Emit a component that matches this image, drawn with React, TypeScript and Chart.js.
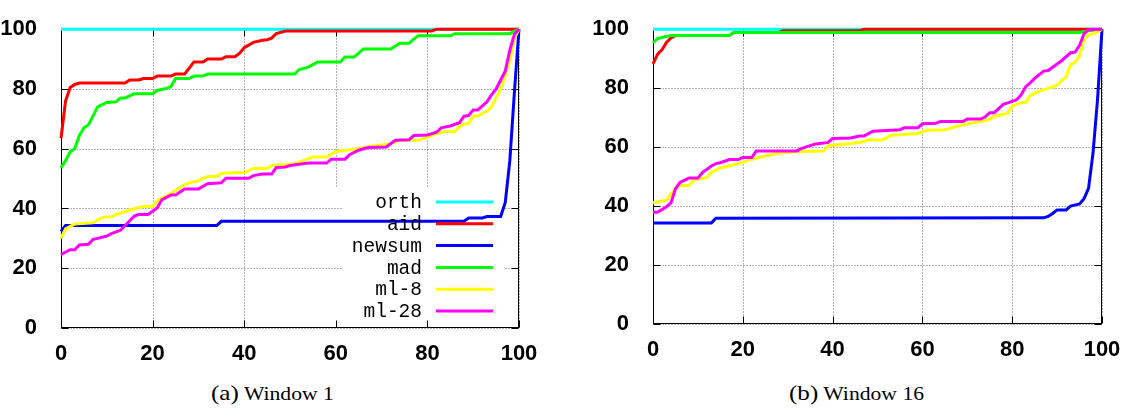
import React, { useEffect, useRef } from "react";
import { Chart, registerables } from "chart.js";
Chart.register(...registerables);

type Pt = [number, number];

const SERIES_LABELS = ["orth", "aid", "newsum", "mad", "ml-8", "ml-28"];
const SERIES_COLORS = ["#00ffff", "#ff0000", "#0000ff", "#00ff00", "#ffff00", "#ff00ff"];
const X_TICKS = [0, 20, 40, 60, 80, 100];
const Y_TICKS = [0, 20, 40, 60, 80, 100];
const CAPTIONS = [
  ["(a)", "Window 1"],
  ["(b)", "Window 16"],
];

// Window 1
const W1_ORTH: Pt[] = [[0, 100], [100, 100]];
const W1_AID: Pt[] = [[0, 63.5], [1, 76], [2, 80.5], [3, 81.5], [4, 82], [14, 82], [15, 83], [17, 83], [18, 83.5], [20, 83.5], [21, 84.3], [24, 84.3], [25, 85], [27, 85], [28, 87], [29, 89], [31, 89], [32, 90], [35, 90], [36, 90.8], [38, 90.8], [39, 92], [40, 93.8], [42, 95.6], [44, 96.3], [45, 96.5], [46, 97], [47, 98.5], [49, 99.4], [81, 99.4], [82, 100], [100, 100]];
const W1_NEWSUM: Pt[] = [[0, 32.3], [1, 34.3], [34, 34.3], [35, 35.7], [88, 35.7], [89, 36.8], [92, 36.8], [93, 37.3], [96, 37.3], [97, 42], [98, 56], [99, 79], [100, 100]];
const W1_MAD: Pt[] = [[0, 53.6], [1, 56], [2, 59], [3, 60], [4, 64.4], [5, 67], [6, 68], [8, 74], [10, 75.5], [12, 75.7], [13, 77], [14, 77], [16, 78.4], [20, 78.4], [21, 79.5], [23, 80.2], [24, 80.8], [25, 83.5], [28, 83.5], [29, 84.3], [31, 84.3], [32, 85], [51, 85], [52, 86.5], [54, 87.3], [56, 89], [61, 89], [62, 90.7], [64, 90.7], [65, 92], [66, 93.4], [72, 93.4], [74, 95.3], [76, 95.3], [77, 96.7], [78, 97.8], [85, 97.8], [86, 98.5], [98, 98.5], [100, 100]];
const W1_ML8: Pt[] = [[0, 30], [1, 33.2], [3, 34.8], [7, 35.2], [9, 37], [11, 37.2], [12, 38], [14, 38.9], [16, 39.9], [18, 40.7], [20, 40.7], [21, 42.5], [22, 43.5], [24, 45], [25, 46], [27, 48], [28, 48.6], [30, 49.3], [32, 50.7], [34, 50.7], [35, 51.8], [40, 52], [42, 53.4], [45, 53.4], [46, 54.4], [49, 54.7], [51, 55], [53, 56.1], [55, 57.2], [58, 57.2], [59, 58.2], [60, 59], [62, 59.5], [65, 60.1], [68, 60.9], [72, 61.7], [74, 62.8], [78, 62.8], [80, 63.9], [82, 65], [84, 65.8], [86, 65.8], [87, 67.5], [88, 68.2], [89, 68.5], [90, 70.9], [91, 71], [93, 72.5], [94, 74], [95, 77], [96, 80], [97, 84.5], [98, 89.7], [99, 97], [100, 100]];
const W1_ML28: Pt[] = [[0, 24.6], [2, 26.2], [3, 26.2], [4, 27.8], [6, 28], [7, 29.7], [8, 30], [10, 30.8], [11, 31.6], [13, 32.7], [15, 35.9], [16, 37.5], [17, 38], [19, 38], [21, 40.2], [22, 42.9], [24, 44.5], [25, 44.5], [27, 46.5], [30, 46.5], [32, 48.3], [35, 48.6], [36, 50.1], [41, 50.1], [42, 51], [44, 51.5], [46, 51.5], [47, 53.7], [49, 53.9], [50, 54.4], [54, 55.2], [58, 55.2], [59, 56.5], [62, 56.5], [63, 58], [65, 59.5], [67, 60.4], [71, 60.6], [73, 62.8], [76, 63], [77, 64.4], [80, 64.6], [82, 65.5], [83, 67], [85, 67.6], [87, 68.7], [88, 70.9], [89, 71.1], [90, 73], [91, 73], [93, 75.7], [94, 78], [95, 80], [96, 83], [97, 86], [98, 93], [99, 98.3], [100, 100]];

// Window 16
const W16_ORTH: Pt[] = [[0, 100], [100, 100]];
const W16_AID: Pt[] = [[0, 88.2], [1, 91.5], [2, 93], [3, 95.5], [4, 97], [5, 97.9], [17, 97.9], [18, 98.9], [28, 98.9], [29, 99.5], [46, 99.5], [47, 100], [100, 100]];
const W16_NEWSUM: Pt[] = [[0, 34.3], [13, 34.3], [14, 35.9], [87, 36], [88, 36.5], [89, 37.5], [90, 38.7], [92, 38.7], [93, 40], [95, 40.7], [96, 42.5], [97, 46], [98, 58], [99, 76], [100, 100]];
const W16_MAD: Pt[] = [[0, 95.4], [1, 96.8], [2, 97.2], [4, 97.9], [17, 97.9], [18, 98.9], [95, 98.9], [97, 99.5], [100, 100]];
const W16_ML8: Pt[] = [[0, 41.1], [3, 42], [4, 44.2], [6, 47], [8, 47], [9, 48.8], [12, 49.7], [13, 51.4], [15, 53], [17, 53.6], [19, 54.4], [21, 55.4], [23, 56.3], [25, 57], [28, 58], [33, 58.5], [38, 58.7], [39, 60.5], [44, 61.2], [46, 61.6], [48, 62.4], [51, 62.4], [53, 64], [59, 64.6], [61, 65.7], [65, 65.9], [67, 66.8], [69, 67.6], [71, 68.2], [74, 69], [75, 69.5], [76, 70.5], [79, 71.5], [80, 74], [82, 75], [83, 75.2], [84, 77.5], [86, 78.9], [87, 79.4], [90, 81], [91, 82.6], [92, 83.8], [93, 88], [94, 88.8], [95, 91], [96, 96.5], [97, 98], [99, 99], [100, 100]];
const W16_ML28: Pt[] = [[0, 37.9], [1, 37.9], [3, 39.8], [4, 41.1], [5, 45.9], [6, 48], [8, 49.5], [10, 49.5], [11, 51.4], [13, 53.6], [14, 54.4], [15, 54.7], [17, 55.8], [19, 55.8], [20, 56.5], [22, 56.5], [23, 58.7], [32, 58.7], [33, 59.5], [36, 61], [39, 61.6], [40, 62.9], [44, 63.1], [46, 63.8], [47, 63.8], [49, 65.4], [55, 65.9], [56, 66.6], [59, 66.6], [60, 67.9], [63, 68.1], [64, 68.7], [69, 68.7], [70, 69.5], [73, 69.5], [74, 70.3], [75, 71.7], [76, 71.7], [78, 74.5], [79, 75], [81, 76.1], [82, 77.8], [83, 80.5], [84, 81.8], [85, 83.3], [87, 85.8], [88, 86], [90, 88.2], [91, 89.3], [93, 92], [94, 92.2], [95, 94.5], [96, 98.5], [97, 99.8], [100, 100]];

const W1_SERIES = [W1_ORTH, W1_AID, W1_NEWSUM, W1_MAD, W1_ML8, W1_ML28];
const W16_SERIES = [W16_ORTH, W16_AID, W16_NEWSUM, W16_MAD, W16_ML8, W16_ML28];

type PlotProps = {
  series: Pt[][];
  legend: boolean;
  left: number;
  width: number;
  height: number;
  padTop: number;
  padRight: number;
  xAxisH: number;
};

function Plot({ series, legend, left, width, height, padTop, padRight, xAxisH }: PlotProps) {
  const ref = useRef<HTMLCanvasElement | null>(null);
  useEffect(() => {
    const canvas = ref.current;
    if (!canvas) return;
    const gridPlugin = {
      id: "gnuGrid",
      beforeDatasetsDraw(chart: any) {
        const { ctx, chartArea: a, scales } = chart;
        const xs = scales.x;
        const ys = scales.y;
        const L = Math.round(a.left) + 0.5;
        const R = Math.round(a.right) - 0.5;
        const T = Math.round(a.top) + 0.5;
        const B = Math.round(a.bottom) - 0.5;
        ctx.save();
        ctx.lineWidth = 1;
        ctx.strokeStyle = "#6a6a6a";
        ctx.setLineDash([1, 2]);
        for (const v of X_TICKS) {
          const px = Math.round(xs.getPixelForValue(v)) + 0.5;
          ctx.beginPath();
          ctx.moveTo(px, T);
          ctx.lineTo(px, B);
          ctx.stroke();
        }
        if (legend) {
          ctx.fillStyle = "#fff";
          ctx.fillRect(333, 188, 172, B - 188);
        }
        for (const v of Y_TICKS) {
          const py = Math.round(ys.getPixelForValue(v)) + 0.5;
          ctx.beginPath();
          ctx.moveTo(L, py);
          ctx.lineTo(R, py);
          ctx.stroke();
        }
        if (legend) {
          ctx.fillStyle = "#fff";
          ctx.fillRect(343, 188, 162, B - 188);
        }
        ctx.setLineDash([]);
        ctx.strokeStyle = "#000";
        ctx.strokeRect(L, T, R - L, B - T);
        const tl = 7;
        ctx.beginPath();
        for (const v of X_TICKS) {
          const px = Math.round(xs.getPixelForValue(v)) + 0.5;
          ctx.moveTo(px, B);
          ctx.lineTo(px, B - tl);
          ctx.moveTo(px, T);
          ctx.lineTo(px, T + tl);
        }
        for (const v of Y_TICKS) {
          const py = Math.round(ys.getPixelForValue(v)) + 0.5;
          ctx.moveTo(L, py);
          ctx.lineTo(L + tl, py);
          ctx.moveTo(R, py);
          ctx.lineTo(R - tl, py);
        }
        ctx.stroke();
        ctx.restore();
      },
      afterDatasetsDraw(chart: any) {
        if (!legend) return;
        const { ctx } = chart;
        ctx.save();
        ctx.font = "19.5px 'Liberation Mono', monospace";
        ctx.textAlign = "right";
        ctx.textBaseline = "middle";
        SERIES_LABELS.forEach((name, i) => {
          const yy = 202 + i * 21.8;
          ctx.fillStyle = "#000";
          ctx.fillText(name, 422, yy + 1);
          ctx.strokeStyle = SERIES_COLORS[i];
          ctx.lineWidth = 3;
          ctx.beginPath();
          ctx.moveTo(436, yy);
          ctx.lineTo(493, yy);
          ctx.stroke();
        });
        ctx.restore();
      },
    };

    const tickFont = { family: "'Liberation Sans', Arial, sans-serif", weight: "bold" as const, size: 22 };
    const chart = new Chart(canvas, {
      type: "line",
      data: {
        datasets: series.map((pts, i) => ({
          label: SERIES_LABELS[i],
          data: pts.map(([x, y]) => ({ x, y })),
          borderColor: SERIES_COLORS[i],
          backgroundColor: SERIES_COLORS[i],
          borderWidth: 3,
          pointRadius: 0,
          tension: 0,
          fill: false,
          clip: 4,
          order: SERIES_LABELS.length - i,
        })),
      },
      options: {
        animation: false,
        responsive: false,
        devicePixelRatio: 1,
        events: [],
        layout: { padding: { left: 0, top: padTop, right: padRight, bottom: 0 } },
        plugins: { legend: { display: false }, tooltip: { enabled: false } },
        scales: {
          x: {
            type: "linear",
            min: 0,
            max: 100,
            afterBuildTicks: (s: any) => {
              s.ticks = X_TICKS.map((v) => ({ value: v }));
            },
            afterFit: (s: any) => {
              s.height = xAxisH;
            },
            grid: { display: false },
            border: { display: false },
            ticks: { font: tickFont, color: "#000", padding: 5, maxRotation: 0, autoSkip: false },
          },
          y: {
            type: "linear",
            min: 0,
            max: 100,
            afterBuildTicks: (s: any) => {
              s.ticks = Y_TICKS.map((v) => ({ value: v }));
            },
            afterFit: (s: any) => {
              s.width = 61;
            },
            grid: { display: false },
            border: { display: false },
            ticks: { font: tickFont, color: "#000", padding: 16, autoSkip: false },
          },
        },
      },
      plugins: [gridPlugin],
    });
    return () => chart.destroy();
  }, []);
  return (
    <div style={{ position: "absolute", left, top: 0, width, height }}>
      <canvas ref={ref} width={width} height={height} style={{ width, height, display: "block" }} />
    </div>
  );
}

function Caption({ left, idx }: { left: number; idx: number }) {
  const [a, b] = CAPTIONS[idx];
  return (
    <div
      style={{
        position: "absolute",
        left,
        top: 380,
        whiteSpace: "nowrap",
        fontFamily: "'Liberation Serif', 'Times New Roman', serif",
        color: "#000",
        lineHeight: "26px",
        transform: "scaleX(1.14)",
        transformOrigin: "0 0",
      }}
    >
      <span style={{ fontSize: 22 }}>{a}</span>
      <span style={{ fontSize: 19 }}> {b}</span>
    </div>
  );
}

export default function App() {
  return (
    <div style={{ position: "fixed", left: 0, top: 0, width: 1127, height: 410, background: "#fff", overflow: "hidden" }}>
      <Plot series={W1_SERIES} legend={true} left={0} width={545} height={362} padTop={18} padRight={26} xAxisH={34} />
      <Plot series={W16_SERIES} legend={false} left={592} width={535} height={358} padTop={21} padRight={25} xAxisH={34} />
      <Caption left={211} idx={0} />
      <Caption left={789} idx={1} />
    </div>
  );
}
